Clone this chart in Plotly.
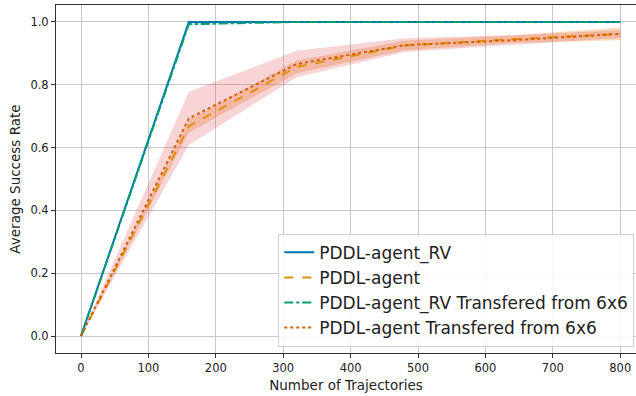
import plotly.graph_objects as go

# Training budget (number of trajectories)
trajectories = [0, 160, 320, 480, 640, 800]

# Mean success rates
rv_mean = [0.0, 1.0, 1.0, 1.0, 1.0, 1.0]
pddl_mean = [0.0, 0.668, 0.857, 0.925, 0.945, 0.962]
rv_transfer_mean = [0.0, 0.993, 1.0, 1.0, 1.0, 1.0]
pddl_transfer_mean = [0.0, 0.693, 0.866, 0.926, 0.942, 0.962]

# Spread around the means
rv_std = [0.0, 0.0, 0.0, 0.0, 0.0, 0.0]
pddl_std = [0.0, 0.02, 0.02, 0.015, 0.012, 0.02]
rv_transfer_std = [0.0, 0.005, 0.0, 0.0, 0.0, 0.0]
pddl_transfer_std = [0.0, 0.085, 0.042, 0.022, 0.016, 0.012]

series = [
    ("PDDL-agent_RV", rv_mean, rv_std, "#0173b2", "solid", "rgba(1,115,178,0.2)"),
    ("PDDL-agent", pddl_mean, pddl_std, "#de8f05", "dash", "rgba(245,150,60,0.35)"),
    ("PDDL-agent_RV Transfered from 6x6", rv_transfer_mean, rv_transfer_std, "#029e73", "dashdot", "rgba(2,158,115,0.2)"),
    ("PDDL-agent Transfered from 6x6", pddl_transfer_mean, pddl_transfer_std, "#d55e00", "dot", "rgba(220,60,70,0.22)"),
]

fig = go.Figure()

# Shaded bands first so that the lines sit on top
for name, mean, std, color, dash, band in series:
    upper = [m + s for m, s in zip(mean, std)]
    lower = [m - s for m, s in zip(mean, std)]
    fig.add_trace(go.Scatter(
        x=trajectories + trajectories[::-1],
        y=upper + lower[::-1],
        fill="toself", fillcolor=band, line=dict(width=0),
        hoverinfo="skip", showlegend=False, mode="lines",
    ))

for name, mean, std, color, dash, band in series:
    fig.add_trace(go.Scatter(
        x=trajectories, y=mean, name=name, mode="lines",
        line=dict(color=color, width=2, dash=dash),
    ))

axis_common = dict(
    showgrid=True, gridcolor="#c8c8c8", gridwidth=1,
    zeroline=False, showline=True, linecolor="#333333", linewidth=1,
    ticks="outside", ticklen=4, tickcolor="#333333",
    tickfont=dict(size=11.5, color="#222222"),
)

fig.update_layout(
    width=636, height=396,
    margin=dict(l=56, r=0, t=5, b=43),
    paper_bgcolor="white", plot_bgcolor="white",
    font=dict(family="DejaVu Sans", color="#222222"),
    xaxis=dict(
        range=[-37.1, 823.4], tickvals=[0, 100, 200, 300, 400, 500, 600, 700, 800],
        title=dict(text="Number of Trajectories", font=dict(size=13.5), standoff=6),
        mirror=True, **axis_common,
    ),
    yaxis=dict(
        range=[-0.054, 1.054], tickvals=[0, 0.2, 0.4, 0.6, 0.8, 1.0],
        tickformat=".1f",
        title=dict(text="Average Success Rate", font=dict(size=13.5), standoff=6),
        **axis_common,
    ),
    legend=dict(
        x=0.997, y=0.018, xanchor="right", yanchor="bottom",
        bgcolor="rgba(255,255,255,0.85)", bordercolor="#d0d0d0", borderwidth=1,
        font=dict(size=17, color="#222222"),
        tracegroupgap=0, itemwidth=30,
    ),
)

fig.write_html("out.html")
